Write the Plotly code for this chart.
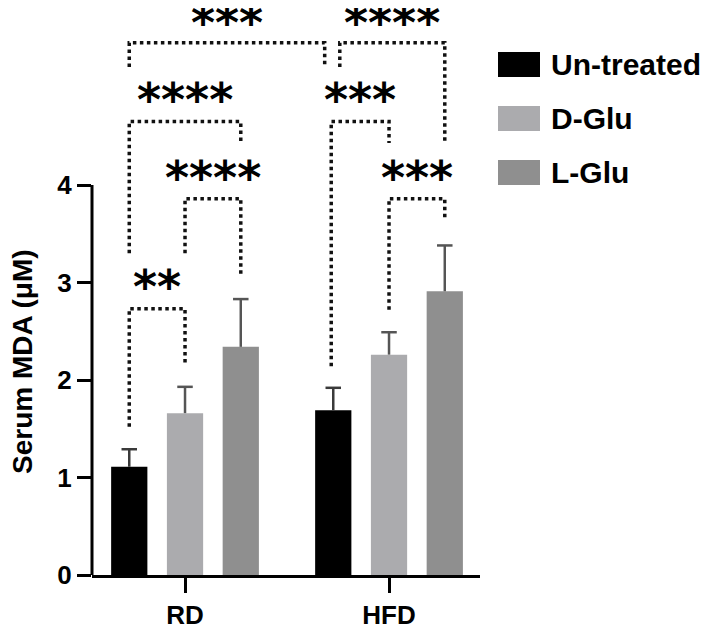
import plotly.graph_objects as go

# ---------------- data ----------------
groups = ["RD", "HFD"]
treatments = ["Un-treated", "D-Glu", "L-Glu"]
mean_untreated = [1.11, 1.69]
mean_dglu = [1.66, 2.26]
mean_lglu = [2.34, 2.91]
sd_untreated = [0.18, 0.23]
sd_dglu = [0.27, 0.23]
sd_lglu = [0.49, 0.47]
y_ticks = [0, 1, 2, 3, 4]

# significance brackets: (group_a, bar_a, group_b, bar_b, label)
bracket_pairs = [
    (0, 0, 1, 0, "***"),
    (1, 0, 1, 2, "****"),
    (0, 0, 0, 2, "****"),
    (1, 0, 1, 1, "***"),
    (0, 1, 0, 2, "****"),
    (1, 1, 1, 2, "***"),
    (0, 0, 0, 1, "**"),
]
# bracket bar heights and leg-bottom levels (in axis units)
bracket_top = [5.46, 5.46, 4.65, 4.65, 3.86, 3.86, 2.73]
bracket_leg_a = [5.21, 5.21, 3.30, 2.14, 3.30, 2.72, 1.52]
bracket_leg_b = [5.21, 4.43, 4.43, 4.43, 3.08, 3.64, 2.17]
bracket_nudge_a = [0.0, 0.032, 0.0, -0.01, 0.0, 0.0, 0.0]
bracket_nudge_b = [-0.042, 0.0, 0.0, 0.0, 0.0, 0.0, 0.0]
label_y = [5.66, 5.66, 4.87, 4.87, 4.07, 4.07, 2.95]

means = [mean_untreated, mean_dglu, mean_lglu]
sds = [sd_untreated, sd_dglu, sd_lglu]
colors = ["#000000", "#ABABAE", "#8F8F8F"]
err_colors = ["#3a3a3a", "#555555", "#555555"]

FONT = "Liberation Sans, Arial, sans-serif"
BARGAP = 0.18
BARGROUPGAP = 0.35
slot = (1 - BARGAP) / len(treatments)
CAP = 0.038  # half cap width, axis units


def bar_x(g, b):
    return g + (b - (len(treatments) - 1) / 2) * slot


fig = go.Figure()
for i, t in enumerate(treatments):
    fig.add_trace(go.Bar(
        x=list(range(len(groups))), y=means[i], name=t,
        marker=dict(color=colors[i], line=dict(width=0)),
        showlegend=False,
    ))

# one-sided (upper) error bars drawn as line segments on the same axes
for i, t in enumerate(treatments):
    ex, ey = [], []
    for g in range(len(groups)):
        xc = bar_x(g, i)
        top = means[i][g] + sds[i][g]
        ex += [xc, xc, None, xc - CAP, xc + CAP, None]
        ey += [means[i][g], top, None, top, top, None]
    fig.add_trace(go.Scatter(x=ex, y=ey, mode="lines", showlegend=False,
                             line=dict(color=err_colors[i], width=2.5),
                             hoverinfo="skip"))

shapes = []
annotations = []
for k, (ga, ba, gb, bb, lab) in enumerate(bracket_pairs):
    xa = bar_x(ga, ba) + bracket_nudge_a[k]
    xb = bar_x(gb, bb) + bracket_nudge_b[k]
    yt = bracket_top[k]
    path = f"M{xa},{bracket_leg_a[k]} L{xa},{yt} L{xb},{yt} L{xb},{bracket_leg_b[k]}"
    shapes.append(dict(type="path", path=path, xref="x", yref="y",
                       line=dict(color="#111111", width=3.5, dash="3.5px,3.5px")))
    annotations.append(dict(x=(xa + xb) / 2, y=label_y[k], xref="x", yref="y",
                            text=lab, showarrow=False, yanchor="middle",
                            font=dict(family="DejaVu Sans", size=46, color="#000000",
                                      weight="bold")))

# y axis line only spans the tick range
shapes.append(dict(type="line", xref="paper", yref="y", x0=0, x1=0,
                   y0=y_ticks[0], y1=y_ticks[-1], line=dict(color="#000000", width=3)))

# layout geometry (page is drawn with an 8px body margin)
OFF = 8
W, H = 709 - OFF, 630 - OFF
L, R, T, B = 92 - OFF, W - (480 - OFF), 0, H - (575 - OFF)
pw, ph = W - L - R, H - T - B


def px(page_x):
    return (page_x - OFF - L) / pw


def py(page_y):
    return (H - B - (page_y - OFF)) / ph


legend_top = [52, 106, 160]
for i, t in enumerate(treatments):
    shapes.append(dict(type="rect", xref="paper", yref="paper",
                       x0=px(498), x1=px(540), y0=py(legend_top[i] + 25), y1=py(legend_top[i]),
                       fillcolor=colors[i], line=dict(width=0)))
    annotations.append(dict(x=px(549), y=py(legend_top[i] + 12.5), xref="paper", yref="paper",
                            text=t, showarrow=False, xanchor="left", yanchor="middle",
                            font=dict(family=FONT, size=30, color="#000000", weight="bold")))

# y-axis title as rotated text
annotations.append(dict(x=px(22), y=py(362), xref="paper", yref="paper",
                        text="Serum MDA (μM)", showarrow=False, textangle=-90,
                        xanchor="center", yanchor="middle",
                        font=dict(family=FONT, size=28, color="#000000", weight="bold")))

fig.update_layout(
    width=W, height=H,
    margin=dict(l=L, r=R, t=T, b=B, pad=0, autoexpand=False),
    paper_bgcolor="white", plot_bgcolor="white",
    barmode="group", bargap=BARGAP, bargroupgap=BARGROUPGAP,
    shapes=shapes, annotations=annotations,
    xaxis=dict(range=[-0.456, 1.446], tickvals=list(range(len(groups))), ticktext=groups,
               showline=True, linecolor="#000000", linewidth=3,
               ticks="outside", ticklen=15, tickwidth=3, tickcolor="#000000",
               showgrid=False, zeroline=False, automargin=False,
               tickfont=dict(family=FONT, size=26, color="#000000", weight="bold")),
    yaxis=dict(range=[0, ph / 97.5], tickvals=y_ticks,
               showline=False, ticks="outside", ticklen=14, tickwidth=3, tickcolor="#000000",
               showgrid=False, zeroline=False, automargin=False,
               tickfont=dict(family=FONT, size=26, color="#000000", weight="bold")),
    font=dict(family=FONT),
)

fig.write_html("out.html")
